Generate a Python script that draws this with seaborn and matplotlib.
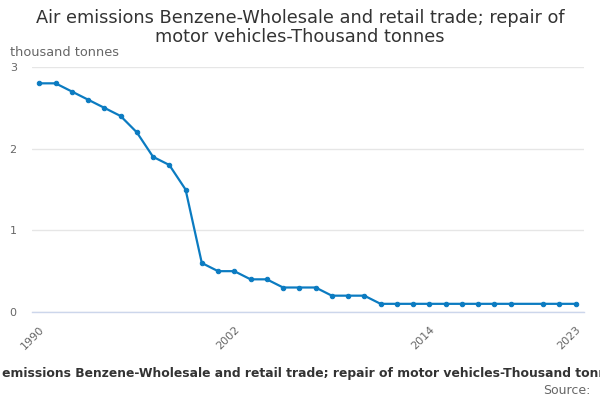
import matplotlib
matplotlib.use("Agg")
import matplotlib.pyplot as plt
import seaborn as sns
import numpy as np
import pandas as pd

# -----------------------------
# Data
# -----------------------------
years = list(range(1990, 2024))
emissions = [2.8, 2.8, 2.7, 2.6, 2.5, 2.4, 2.2, 1.9, 1.8, 1.5,
             0.6, 0.5, 0.5, 0.4, 0.4, 0.3, 0.3, 0.3, 0.2, 0.2,
             0.2, 0.1, 0.1, 0.1, 0.1, 0.1, 0.1, 0.1, 0.1, 0.1,
             np.nan, 0.1, 0.1, 0.1]
tick_years = list(range(1990, 2024, 3))
labelled_years = [1990, 2002, 2014, 2023]

title = "Air emissions Benzene-Wholesale and retail trade; repair of\nmotor vehicles-Thousand tonnes"
footer = "Air emissions Benzene-Wholesale and retail trade; repair of motor vehicles-Thousand tonnes"
unit = "thousand tonnes"

df = pd.DataFrame({"year": years, "value": emissions})

# -----------------------------
# Plot
# -----------------------------
sns.set_style("white")
plt.rcParams["font.family"] = ["DejaVu Sans"]

line_color = "#0b7bc1"
grid_color = "#e6e6e6"
axis_color = "#ccd6eb"

fig = plt.figure(figsize=(6, 4), dpi=100)
ax = fig.add_axes([32 / 600, 1 - 312 / 400, 552 / 600, 245 / 400])

sns.lineplot(data=df, x="year", y="value", ax=ax, color=line_color,
             linewidth=1.6, marker="o", markersize=3.2,
             markeredgecolor=line_color, clip_on=False)

ax.set_xlim(1989.55, 2023.52)
ax.set_ylim(0, 3)
ax.set_yticks([0, 1, 2, 3])
ax.set_yticklabels(["0", "1", "2", "3"])
ax.yaxis.grid(True, color=grid_color, linewidth=1)
ax.set_axisbelow(True)

for side in ["left", "right", "top"]:
    ax.spines[side].set_visible(False)
ax.spines["bottom"].set_color(axis_color)
ax.spines["bottom"].set_linewidth(1)

ax.set_xticks(tick_years)
ax.set_xticklabels([str(y) if y in labelled_years else "" for y in tick_years],
                   rotation=45, ha="right", rotation_mode="anchor")
ax.tick_params(axis="x", length=7, width=1, color=axis_color,
               labelsize=8, labelcolor="#666666", pad=2)
ax.tick_params(axis="y", length=0, labelsize=8, labelcolor="#666666", pad=11)
ax.set_xlabel("")
ax.set_ylabel("")

fig.text(0.5, 0.978, title, ha="center", va="top", fontsize=12.8,
         color="#333333", linespacing=1.08)
fig.text(10 / 600, 1 - 52 / 400, unit, ha="left", va="center",
         fontsize=9.3, color="#666666")
fig.text(0.5, 1 - 373 / 400, footer, ha="center", va="center",
         fontsize=8.9, fontweight="bold", color="#333333")
fig.text(590 / 600, 1 - 390 / 400, "Source:", ha="right", va="center",
         fontsize=9, color="#666666")

fig.savefig("out.png", dpi=100)
